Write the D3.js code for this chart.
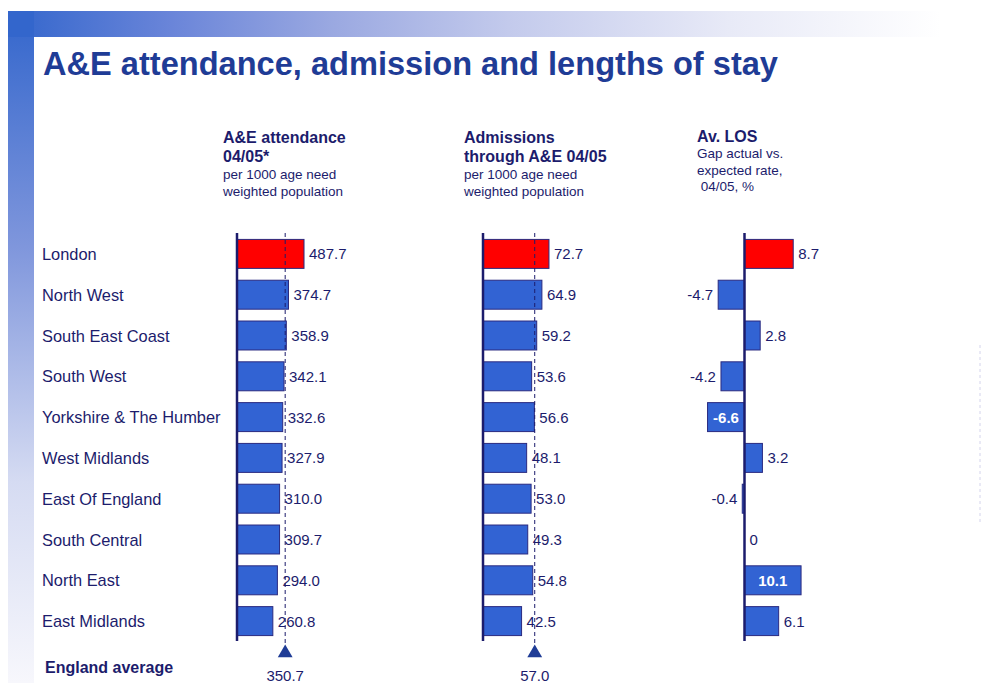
<!DOCTYPE html>
<html lang="en">
<head>
<meta charset="UTF-8">
<title>A&amp;E attendance, admission and lengths of stay</title>
<style>
    body { margin: 0; background: #fff; }
    svg { display: block; font-family: "Liberation Sans", Arial, sans-serif; }
    .region-label { fill: #1c1c6c; font-size: 16.4px; }
    .value-label { fill: #1c1c6c; font-size: 15px; }
    .head-bold { fill: #1c1c6c; font-size: 16px; font-weight: bold; }
    .head-sub { fill: #1c1c6c; font-size: 13.5px; }
    .axis-line { stroke: #1c1c6c; stroke-width: 2.5; }
    .avg-line { stroke: #1c1c6c; stroke-width: 1; stroke-dasharray: 4 3; }
</style>
</head>
<body>
<svg id="chart" width="981" height="683"></svg>
<script src="https://d3js.org/d3.v7.min.js"></script>
<script>
// data
var regions = ['London', 'North West', 'South East Coast', 'South West', 'Yorkshire & The Humber',
    'West Midlands', 'East Of England', 'South Central', 'North East', 'East Midlands'];
var attendance = [487.7, 374.7, 358.9, 342.1, 332.6, 327.9, 310.0, 309.7, 294.0, 260.8];
var admissions = [72.7, 64.9, 59.2, 53.6, 56.6, 48.1, 53.0, 49.3, 54.8, 42.5];
var losGap = [8.7, -4.7, 2.8, -4.2, -6.6, 3.2, -0.4, 0, 10.1, 6.1];
var attendanceAvg = 350.7;
var admissionsAvg = 57.0;
var highlight = ['London'];
var insideLabels = ['Yorkshire & The Humber', 'North East'];

var svg = d3.select('#chart');
var defs = svg.append('defs');

// background decoration: banner + left strip
var hg = defs.append('linearGradient').attr('id', 'bannerGrad');
[[0, '#3366cc'], [0.17, '#6a85d9'], [0.34, '#9ba9e1'], [0.52, '#c3caec'], [0.75, '#e8eaf7'], [0.97, '#ffffff']]
    .forEach(s => hg.append('stop').attr('offset', s[0]).attr('stop-color', s[1]));
var vg = defs.append('linearGradient').attr('id', 'stripGrad')
    .attr('x1', 0).attr('y1', 0).attr('x2', 0).attr('y2', 1);
[[0, '#3366cc'], [0.35, '#7f96dc'], [0.7, '#d5dbf2'], [1, '#f7f7fc']]
    .forEach(s => vg.append('stop').attr('offset', s[0]).attr('stop-color', s[1]));

svg.append('rect').attr('x', 8).attr('y', 11).attr('width', 962).attr('height', 26).attr('fill', 'url(#bannerGrad)');
svg.append('rect').attr('x', 8).attr('y', 11).attr('width', 26).attr('height', 672).attr('fill', 'url(#stripGrad)');
svg.append('rect').attr('x', 8).attr('y', 11).attr('width', 26).attr('height', 26).attr('fill', '#3366cc');
svg.append('line').attr('x1', 980).attr('x2', 980).attr('y1', 345).attr('y2', 525)
    .attr('stroke', '#d4d4ec').attr('stroke-dasharray', '3 3');

// title
svg.append('text').attr('x', 43).attr('y', 75)
    .attr('fill', '#1f3c96').attr('font-size', 32.6).attr('font-weight', 'bold')
    .text('A&E attendance, admission and lengths of stay');

// column headers
function header(x, bold, sub, y0, subY0, subStep) {
    var g = svg.append('g');
    bold.forEach((t, i) => g.append('text').attr('class', 'head-bold').attr('x', x).attr('y', y0 + i * 19).text(t));
    sub.forEach((t, i) => g.append('text').attr('class', 'head-sub').attr('x', x).attr('y', subY0 + i * subStep).text(t));
}
header(223, ['A&E attendance', '04/05*'], ['per 1000 age need', 'weighted population'], 143, 179, 16.5);
header(464, ['Admissions', 'through A&E 04/05'], ['per 1000 age need', 'weighted population'], 143, 179, 16.5);
header(697, ['Av. LOS'], ['Gap actual vs.', 'expected rate,', '\u00a004/05, %'], 142, 158, 16.5);

// row scale
var y = d3.scaleBand().domain(regions).range([233.5, 641.5]).paddingInner(0.29).paddingOuter(0.145);
var axisTop = 233, axisBottom = 641;

svg.selectAll('.region-label').data(regions).enter().append('text')
    .attr('class', 'region-label')
    .attr('x', 42)
    .attr('y', d => y(d) + y.bandwidth() / 2 + 6)
    .text(d => d);

function fmt(v) { return v === 0 ? '0' : v.toFixed(1); }
function barFill(region) { return highlight.includes(region) ? '#ff0000' : '#3263d3'; }

// generic bar column
function barColumn(values, x, avg, inside) {
    var g = svg.append('g');
    var rows = values.map((v, i) => ({ region: regions[i], v: v }));
    var x0 = x(0);

    g.selectAll('rect').data(rows).enter().append('rect')
        .attr('x', d => Math.min(x(d.v), x0))
        .attr('y', d => y(d.region))
        .attr('width', d => Math.abs(x(d.v) - x0))
        .attr('height', y.bandwidth())
        .attr('fill', d => barFill(d.region))
        .attr('stroke', '#2a2a80')
        .attr('stroke-width', d => d.v === 0 ? 0 : 1);

    if (avg !== undefined) {
        var ax = x(avg);
        g.append('line').attr('class', 'avg-line')
            .attr('x1', ax).attr('x2', ax).attr('y1', axisTop).attr('y2', 645);
        g.append('path')
            .attr('d', d3.symbol().type(d3.symbolTriangle).size(95))
            .attr('transform', `translate(${ax},${653})`)
            .attr('fill', '#1f3c96');
        g.append('text').attr('class', 'value-label')
            .attr('x', ax).attr('y', 681).attr('text-anchor', 'middle')
            .text(avg.toFixed(1));
    }

    g.append('line').attr('class', 'axis-line')
        .attr('x1', x0).attr('x2', x0).attr('y1', axisTop).attr('y2', axisBottom);

    g.selectAll('.value-label.bar').data(rows).enter().append('text')
        .attr('class', 'value-label bar')
        .attr('y', d => y(d.region) + y.bandwidth() / 2 + 5.5)
        .each(function (d) {
            var t = d3.select(this);
            if (inside && inside.includes(d.region)) {
                t.attr('x', (x(d.v) + x0) / 2).attr('text-anchor', 'middle')
                    .style('fill', '#ffffff').style('font-weight', 'bold');
            } else if (d.v < 0) {
                t.attr('x', x(d.v) - 5).attr('text-anchor', 'end');
            } else {
                t.attr('x', x(d.v) + 5).attr('text-anchor', 'start');
            }
            t.text(fmt(d.v));
        });
}

var xAtt = d3.scaleLinear().domain([0, 500]).range([237, 305.7]);
var xAdm = d3.scaleLinear().domain([0, 80]).range([483, 555.6]);
var xLos = d3.scaleLinear().domain([-10, 10]).range([688.5, 800.5]);

barColumn(attendance, xAtt, attendanceAvg);
barColumn(admissions, xAdm, admissionsAvg);
barColumn(losGap, xLos, undefined, insideLabels);

svg.append('text').attr('x', 45).attr('y', 673)
    .attr('fill', '#1c1c6c').attr('font-size', 16).attr('font-weight', 'bold')
    .text('England average');
</script>
</body>
</html>
